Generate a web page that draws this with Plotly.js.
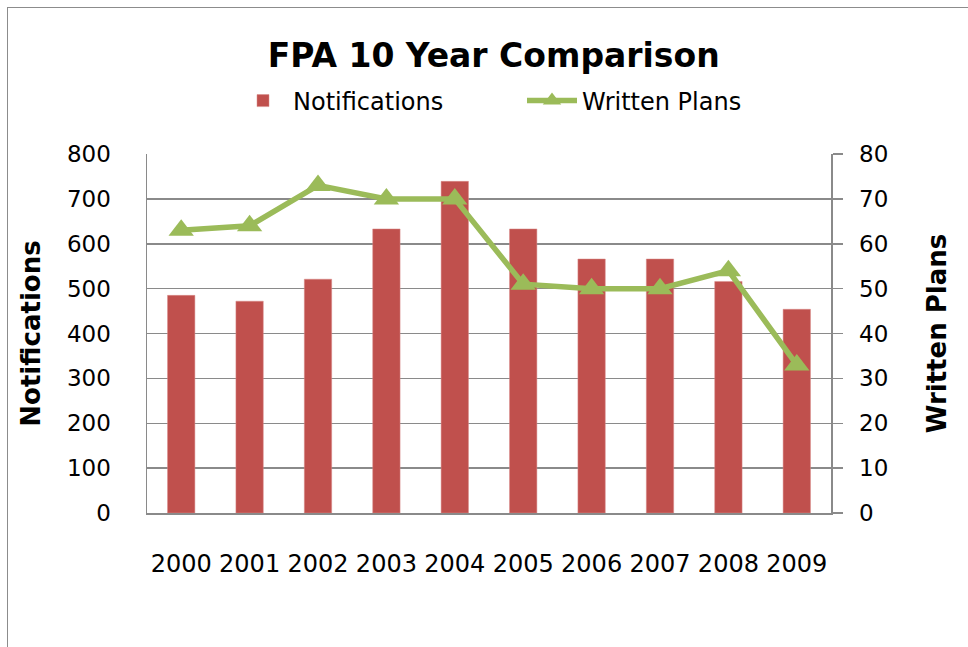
<script src="https://cdn.plot.ly/plotly-3.0.1.min.js"></script>
<style>
  body { margin: 0; overflow: hidden; background: #fff; }
  #frame {
    position: absolute;
    left: 7px;
    top: 7px;
    width: 1000px;
    height: 700px;
    border: 1px solid #8c8c8c;
    pointer-events: none;
  }
  #chart {
    position: absolute;
    left: 0;
    top: 0;
    width: 968px;
    height: 647px;
  }
</style>
<div id="chart"></div>
<div id="frame"></div>

<script>
// values
const years = ["2000", "2001", "2002", "2003", "2004", "2005", "2006", "2007", "2008", "2009"];
const notifications = [485, 472, 521, 633, 739, 633, 566, 566, 516, 454];
const writtenPlans = [63, 64, 73, 70, 70, 51, 50, 50, 54, 33];

const leftTicks = [0, 100, 200, 300, 400, 500, 600, 700, 800];
const rightTicks = [0, 10, 20, 30, 40, 50, 60, 70, 80];

const fontFamily = '"DejaVu Sans", "Liberation Sans", sans-serif';
const gridGray = '#8a8a8a';

const barTrace = {
  x: years,
  y: notifications,
  name: 'Notifications',
  type: 'bar',
  width: 0.4,
  marker: { color: '#C0504D', line: { color: '#d98c8a', width: 0.5 } },
  yaxis: 'y'
};

const lineTrace = {
  x: years,
  y: writtenPlans,
  name: 'Written Plans',
  type: 'scatter',
  mode: 'lines+markers',
  line: { color: '#9BBB59', width: 5.5 },
  marker: { symbol: 'triangle-up', size: 22, color: '#9BBB59' },
  yaxis: 'y2'
};

const layout = {
  width: 968,
  height: 647,
  margin: { l: 147, r: 137, t: 154, b: 134 },
  paper_bgcolor: '#ffffff',
  plot_bgcolor: '#ffffff',
  font: { family: fontFamily, color: '#000000', size: 24 },
  title: {
    text: '<b>FPA 10 Year Comparison</b>',
    font: { family: fontFamily, size: 33, color: '#000' },
    xref: 'container',
    x: 0.51,
    xanchor: 'center',
    yref: 'container',
    y: 1 - 55 / 647,
    yanchor: 'middle'
  },
  showlegend: true,
  legend: {
    orientation: 'h',
    xref: 'container',
    x: 233 / 968,
    xanchor: 'left',
    yref: 'container',
    y: 1 - 101 / 647,
    yanchor: 'middle',
    font: { family: fontFamily, size: 24 },
    itemwidth: 50,
    entrywidth: 224
  },
  bargap: 0.6,
  xaxis: {
    type: 'category',
    range: [-0.5, 9.5],
    tickvals: years,
    ticktext: years,
    showline: true,
    linecolor: gridGray,
    linewidth: 1.5,
    ticks: '',
    ticklabelstandoff: 29,
    tickfont: { family: fontFamily, size: 24 },
    showgrid: false,
    mirror: false
  },
  yaxis: {
    range: [0, 800],
    tickvals: leftTicks,
    showline: true,
    linecolor: gridGray,
    linewidth: 1.5,
    showgrid: true,
    gridcolor: gridGray,
    gridwidth: 1.5,
    zeroline: false,
    ticks: '',
    ticklabelstandoff: 30,
    tickfont: { family: fontFamily, size: 23 },
    title: {
      text: '<b>Notifications</b>',
      font: { family: fontFamily, size: 26 },
      standoff: 19
    }
  },
  yaxis2: {
    range: [0, 80],
    tickvals: rightTicks,
    overlaying: 'y',
    side: 'right',
    showline: true,
    linecolor: gridGray,
    linewidth: 1.5,
    showgrid: false,
    zeroline: false,
    ticks: 'outside',
    ticklen: 10,
    tickcolor: gridGray,
    tickwidth: 1.5,
    ticklabelstandoff: 12,
    tickfont: { family: fontFamily, size: 23 },
    title: {
      text: '<b>Written Plans</b>',
      font: { family: fontFamily, size: 26 },
      standoff: 40
    }
  }
};

Plotly.newPlot('chart', [barTrace, lineTrace], layout, { displayModeBar: false, staticPlot: true });
</script>
